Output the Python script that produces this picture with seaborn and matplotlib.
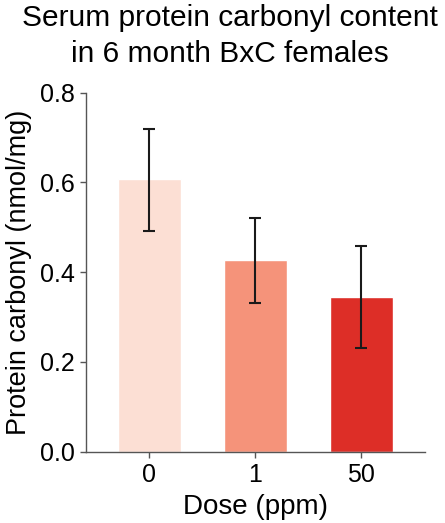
import matplotlib
matplotlib.use("Agg")
import matplotlib.pyplot as plt
import pandas as pd
import seaborn as sns

# values
doses = ["0", "1", "50"]
carbonyl = [0.607, 0.427, 0.344]
err_low = [0.492, 0.332, 0.232]
err_high = [0.720, 0.521, 0.458]
bar_colors = ["#fcdfd4", "#f5937a", "#dd2e27"]

sns.set_style("white")
plt.rcParams["font.family"] = ["Liberation Sans", "DejaVu Sans"]
plt.rcParams["text.color"] = "black"
plt.rcParams["axes.labelcolor"] = "black"
plt.rcParams["xtick.color"] = "black"
plt.rcParams["ytick.color"] = "black"

df = pd.DataFrame({"dose": doses, "carbonyl": carbonyl})

fig = plt.figure(figsize=(4.45, 5.23), dpi=100)
ax = fig.add_axes([0.193, 0.1363, 0.762, 0.6865])

sns.barplot(data=df, x="dose", y="carbonyl", hue="dose", palette=bar_colors,
            order=doses, hue_order=doses, width=0.6, saturation=1,
            legend=False, errorbar=None, ax=ax)

# error bars, centred on the bars seaborn drew
centers = [p.get_x() + p.get_width() / 2 for p in ax.patches]
yerr = [[c - lo for c, lo in zip(carbonyl, err_low)],
        [hi - c for c, hi in zip(carbonyl, err_high)]]
ax.errorbar(centers, carbonyl, yerr=yerr, fmt="none", ecolor="#1a1a1a",
            elinewidth=1.5, capsize=4.5, capthick=1.5)

ax.set_xlim(-0.6, 2.6)
ax.set_ylim(0, 0.8)
ax.set_yticks([0.0, 0.2, 0.4, 0.6, 0.8])
ax.set_yticklabels(["0.0", "0.2", "0.4", "0.6", "0.8"])

sns.despine(ax=ax)
for side in ("left", "bottom"):
    ax.spines[side].set_color("#555555")
    ax.spines[side].set_linewidth(1.0)
ax.tick_params(axis="both", direction="out", length=4, width=1.0,
               color="#555555", labelcolor="black", labelsize=18, pad=4,
               bottom=True, left=True)

ax.set_xlabel("Dose (ppm)", fontsize=20, labelpad=5)
ax.set_ylabel("Protein carbonyl (nmol/mg)", fontsize=19.5, labelpad=6)

fig.text(0.516, 0.992, "Serum protein carbonyl content\nin 6 month BxC females",
         ha="center", va="top", fontsize=21.5, linespacing=1.34)

fig.savefig("out.png", dpi=100)
